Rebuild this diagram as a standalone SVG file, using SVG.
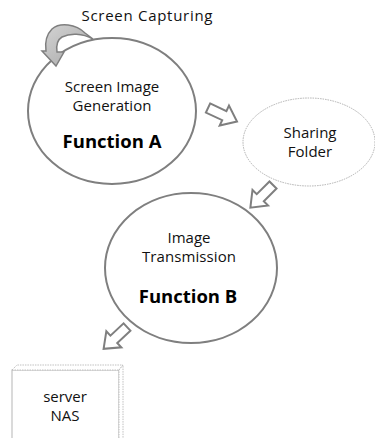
<svg xmlns="http://www.w3.org/2000/svg" width="375" height="438" viewBox="0 0 375 438">
<defs>
<style>
text{font-family:"Open Sans","Noto Sans","Liberation Sans",sans-serif;fill:#111;text-anchor:middle}
.t{font-size:15px}
.b{font-size:18.5px;font-weight:bold;fill:#000}
.ell{fill:#fff;stroke:#7f7f7f;stroke-width:2}
.dot{fill:#fff;stroke:#b0b0b0;stroke-width:1;stroke-dasharray:1.5 1}
.blk{fill:#fff;stroke:#7f7f7f;stroke-width:2;stroke-linejoin:miter}
</style>
<linearGradient id="g" x1="0" y1="0" x2="1" y2="1">
<stop offset="0" stop-color="#d4d4d4"/>
<stop offset="1" stop-color="#a6a6a6"/>
</linearGradient>
<path id="ba" d="M0,-5 L18,-5 L18,-11 L32,0 L18,11 L18,5 L0,5 Z"/>
</defs>
<g id="nodeA">
<ellipse class="ell" cx="112" cy="111" rx="84" ry="73"/>
<text class="t" x="112" y="92">Screen Image</text>
<text class="t" x="112" y="111">Generation</text>
<text class="b" x="112" y="148">Function A</text>
</g>
<g id="capture">
<path d="M85,33 C76,24 60,22 52,29 C46,35 45,44 46,51 L42,51 L56,66 L64,52 L57,52 C56,45 57,40 62,37 C70,33 82,33 93,39 Z" fill="url(#g)" stroke="#7f7f7f" stroke-width="1.5"/>
<text class="t" x="147" y="21" textLength="131">Screen Capturing</text>
</g>
<g id="nodeShare">
<ellipse class="dot" cx="309" cy="142" rx="66" ry="44"/>
<text class="t" x="310" y="138">Sharing</text>
<text class="t" x="310" y="157">Folder</text>
</g>
<g id="nodeB">
<ellipse class="ell" cx="191" cy="268" rx="86" ry="75"/>
<text class="t" x="189" y="243">Image</text>
<text class="t" x="189" y="262" textLength="94">Transmission</text>
<text class="b" x="188" y="303">Function B</text>
</g>
<g id="nodeNAS">
<rect x="12" y="370" width="107" height="80" fill="#fff" stroke="#b5b5b5" stroke-width="1"/>
<polygon points="12,370 17,365 123,365 119,370" fill="#fff" stroke="#c0c0c0" stroke-width="1" stroke-dasharray="1.5 1"/>
<polygon points="119,370 123,365 123,440 119,440" fill="#fff" stroke="#c0c0c0" stroke-width="1" stroke-dasharray="1.5 1"/>
<text class="t" x="65" y="402">server</text>
<text class="t" x="65" y="421">NAS</text>
</g>
<g id="connectors">
<use href="#ba" class="blk" transform="translate(208,108) rotate(25)"/>
<use href="#ba" class="blk" transform="translate(273,185) rotate(135)"/>
<use href="#ba" class="blk" transform="translate(127,327) rotate(137)"/>
</g>
</svg>
